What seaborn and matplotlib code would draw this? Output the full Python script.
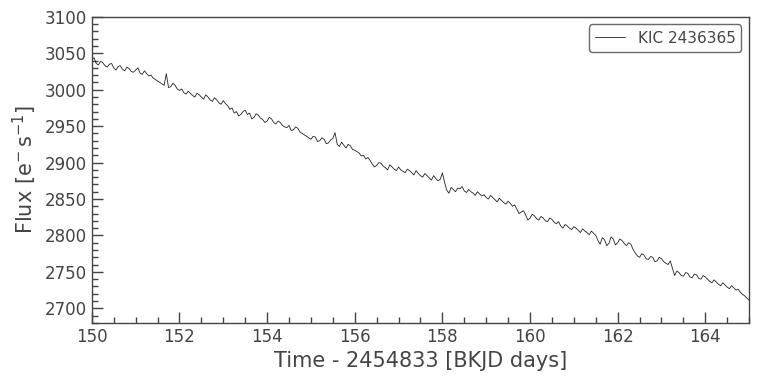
import numpy as np
import pandas as pd
import seaborn as sns
import matplotlib
matplotlib.use("Agg")
import matplotlib.pyplot as plt
from matplotlib.ticker import MultipleLocator

# time samples every 0.05 day, flux
time = np.round(np.linspace(150.0, 165.0, 301), 2)
flux = [
    3041, 3044, 3036, 3034, 3039, 3037, 3033, 3031, 3035, 3036, 3030,
    3027, 3032, 3033, 3028, 3026, 3031, 3029, 3025, 3024, 3027,
    3030, 3023, 3021, 3026, 3022, 3019, 3020, 3016, 3014, 3012,
    3010, 3008, 3006, 3022, 3003, 3004, 3009, 3006, 3001, 2999,
    3001, 2996, 2994, 2998, 2995, 2992, 2990, 2995, 2993, 2990,
    2987, 2993, 2990, 2986, 2984, 2989, 2986, 2982, 2980, 2985,
    2981, 2978, 2973, 2975, 2968, 2970, 2964, 2966, 2970, 2972,
    2966, 2968, 2960, 2962, 2967, 2965, 2961, 2959, 2955, 2957,
    2962, 2960, 2955, 2953, 2957, 2955, 2951, 2949, 2948, 2951,
    2944, 2945, 2949, 2947, 2942, 2940, 2938, 2936, 2934, 2932,
    2936, 2935, 2929, 2930, 2934, 2932, 2926, 2927, 2931, 2933,
    2941, 2925, 2922, 2928, 2924, 2920, 2925, 2923, 2918, 2917,
    2915, 2913, 2909, 2910, 2905, 2907, 2903, 2898, 2894, 2896,
    2900, 2899, 2895, 2893, 2890, 2897, 2894, 2891, 2889, 2894,
    2890, 2888, 2886, 2891, 2889, 2886, 2883, 2889, 2885, 2882,
    2880, 2885, 2882, 2879, 2876, 2882, 2878, 2875, 2877, 2886,
    2873, 2862, 2858, 2866, 2863, 2860, 2865, 2864, 2867, 2861,
    2859, 2863, 2860, 2858, 2855, 2860, 2857, 2854, 2856, 2852,
    2850, 2855, 2852, 2849, 2846, 2851, 2848, 2845, 2843, 2847,
    2844, 2840, 2842, 2836, 2830, 2832, 2834, 2828, 2821, 2824,
    2829, 2827, 2823, 2821, 2826, 2824, 2820, 2819, 2824, 2822,
    2818, 2816, 2819, 2813, 2810, 2815, 2813, 2810, 2808, 2812,
    2810, 2807, 2804, 2809, 2806, 2804, 2801, 2806, 2803, 2800,
    2793, 2788, 2797, 2794, 2786, 2789, 2798, 2795, 2787, 2790,
    2795, 2793, 2789, 2786, 2790, 2788, 2781, 2776, 2772, 2770,
    2775, 2773, 2768, 2767, 2771, 2770, 2764, 2765, 2770, 2768,
    2764, 2762, 2760, 2765, 2755, 2745, 2751, 2749, 2745, 2744,
    2749, 2748, 2743, 2742, 2747, 2746, 2741, 2740, 2745, 2743,
    2740, 2737, 2735, 2739, 2736, 2733, 2731, 2735, 2732, 2729,
    2727, 2731, 2728, 2725, 2726, 2722, 2719, 2717, 2714, 2711,
]
label = "KIC 2436365"

df = pd.DataFrame({"time": time, "flux": flux, "target": label})

sns.set_style("ticks")
plt.rcParams["font.family"] = ["DejaVu Sans"]
gray = "#444444"
plt.rcParams.update({
    "axes.edgecolor": gray, "axes.labelcolor": gray,
    "xtick.color": gray, "ytick.color": gray, "text.color": gray,
})

fig = plt.figure(figsize=(7.59, 3.83), dpi=100)
ax = fig.add_axes([0.121, 0.157, 0.866, 0.799])

sns.lineplot(data=df, x="time", y="flux", hue="target", palette=["#222222"],
             linewidth=0.6, estimator=None, ax=ax)

ax.set_xlim(150, 165)
ax.set_ylim(2680, 3100)
ax.xaxis.set_major_locator(MultipleLocator(2))
ax.xaxis.set_minor_locator(MultipleLocator(0.5))
ax.yaxis.set_major_locator(MultipleLocator(50))
ax.yaxis.set_minor_locator(MultipleLocator(10))
ax.tick_params(which="both", direction="in", labelsize=12)
ax.tick_params(which="major", length=8, width=1)
ax.tick_params(which="minor", length=4, width=1)
for s in ax.spines.values():
    s.set_linewidth(1)

ax.set_xlabel("Time - 2454833 [BKJD days]", fontsize=15)
ax.set_ylabel(r"Flux [$\mathrm{e^{-}\,s^{-1}}$]", fontsize=15)

leg = ax.legend(loc="upper right", fontsize=11, frameon=True, handlelength=2,
                edgecolor=gray, fancybox=True)
leg.get_frame().set_linewidth(1)

fig.savefig("out.png", dpi=100)
